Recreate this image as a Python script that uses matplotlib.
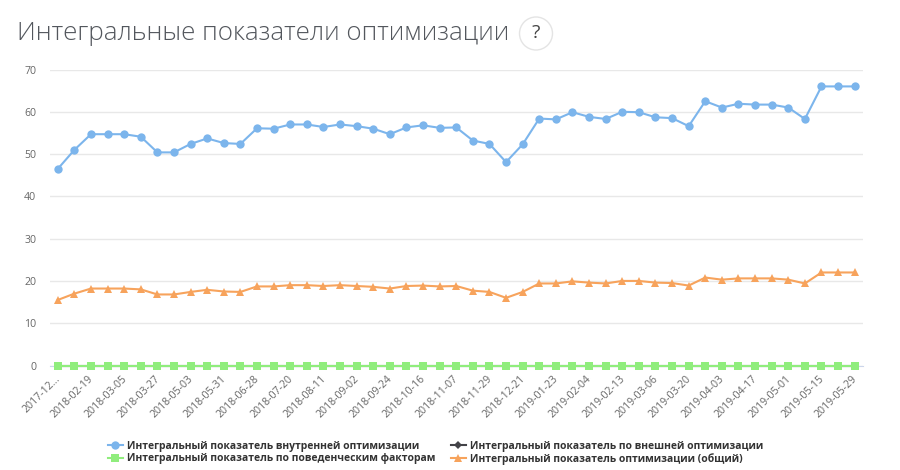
#!/usr/bin/env python3
"""Line chart of integral optimization scores by date."""

import matplotlib
matplotlib.use("Agg")
import numpy as np
import matplotlib.pyplot as plt
from matplotlib.patches import Circle
from matplotlib.transforms import ScaledTranslation

plt.rcParams["font.family"] = ["Open Sans", "DejaVu Sans"]

TITLE = "Интегральные показатели оптимизации"

tick_labels = [
    "2017-12...", "2018-02-19", "2018-03-05", "2018-03-27", "2018-05-03",
    "2018-05-31", "2018-06-28", "2018-07-20", "2018-08-11", "2018-09-02",
    "2018-09-24", "2018-10-16", "2018-11-07", "2018-11-29", "2018-12-21",
    "2019-01-23", "2019-02-04", "2019-02-13", "2019-03-06", "2019-03-20",
    "2019-04-03", "2019-04-17", "2019-05-01", "2019-05-15", "2019-05-29",
]

internal = [
    46.5, 51.0, 54.7, 54.7, 54.7, 54.1, 50.4, 50.4, 52.4, 53.7,
    52.6, 52.4, 56.1, 56.0, 57.0, 57.0, 56.4, 57.0, 56.6, 56.0,
    54.7, 56.3, 56.8, 56.2, 56.3, 53.2, 52.4, 48.1, 52.3, 58.4,
    58.2, 59.9, 58.8, 58.3, 60.0, 59.9, 58.7, 58.5, 56.6, 62.5,
    61.0, 61.9, 61.7, 61.7, 61.0, 58.3, 66.0, 66.0, 66.0,
]
external = [0] * 49
behavior = [0] * 49
overall = [
    15.5, 17.0, 18.2, 18.2, 18.2, 18.0, 16.8, 16.8, 17.4, 17.9,
    17.5, 17.4, 18.7, 18.7, 19.0, 19.0, 18.8, 19.0, 18.8, 18.6,
    18.2, 18.8, 18.9, 18.7, 18.8, 17.7, 17.4, 16.0, 17.4, 19.4,
    19.4, 19.9, 19.6, 19.4, 20.0, 20.0, 19.6, 19.5, 18.9, 20.8,
    20.3, 20.6, 20.6, 20.6, 20.3, 19.4, 22.0, 22.0, 22.0,
]

W, H = 900, 470
fig = plt.figure(figsize=(W / 100, H / 100), dpi=100)
# plot area in pixels: x 49.5..863, y 69.5..365.5
ax = fig.add_axes([49.5 / W, 1 - 365.5 / H, (863 - 49.5) / W, 296 / H])

x = np.arange(len(internal))
ax.plot(x, internal, color="#7cb5ec", lw=1.5, marker="o", ms=6, mew=0,
        label="Интегральный показатель внутренней оптимизации", clip_on=False)
ax.plot(x, behavior, color="#90ed7d", lw=1.5, marker="s", ms=5.8, mew=0,
        label="Интегральный показатель по поведенческим факторам", clip_on=False, zorder=4)
ax.plot(x, external, color="#434348", lw=1.5, marker="D", ms=4, mew=0,
        label="Интегральный показатель по внешней оптимизации", clip_on=False, zorder=3)
ax.plot(x, overall, color="#f7a35c", lw=1.5, marker="^", ms=6, mew=0,
        label="Интегральный показатель оптимизации (общий)", clip_on=False)

ax.set_xlim(-0.5, len(internal) - 0.5)
ax.set_ylim(0, 70)
ax.set_yticks(range(0, 71, 10))
ax.set_xticks(x[::2])
ax.set_xticklabels(tick_labels, rotation=45, ha="right", rotation_mode="anchor",
                   fontsize=7.6, color="#666666")
ax.tick_params(axis="x", length=0, pad=5.5)
ax.tick_params(axis="y", length=0, pad=9.5, labelsize=7.6, labelcolor="#666666")
# nudge the rotated labels a little left of their ticks
shift = ScaledTranslation(-3 / 100, 0, fig.dpi_scale_trans)
for lab in ax.get_xticklabels():
    lab.set_transform(lab.get_transform() + shift)
ax.grid(True, axis="y", color="#e8e8e8", lw=1)
ax.set_axisbelow(True)
for s in ["top", "right", "left"]:
    ax.spines[s].set_visible(False)
ax.spines["bottom"].set_color("#ccd6eb")

handles, labels = ax.get_legend_handles_labels()
fig.legend(handles, labels, ncol=2, loc="lower left",
           bbox_to_anchor=(108 / W, 1 - 465 / H), frameon=False,
           prop={"size": 7.47, "weight": "bold"}, labelcolor="#333333",
           handlelength=1.4, handletextpad=0.4, columnspacing=1.55,
           labelspacing=0.1, borderpad=0, borderaxespad=0)

fig.text(17 / W, 1 - 34 / H, TITLE, fontsize=18.7, color="#53575d",
         va="center", ha="left", fontweight="light")

# help badge next to the title
overlay = fig.add_axes([0, 0, 1, 1], facecolor="none")
overlay.set_xlim(0, W)
overlay.set_ylim(H, 0)
overlay.axis("off")
overlay.add_patch(Circle((536, 33.5), 16.5, fc="white", ec="#e4e4e4", lw=1))
overlay.text(536, 33.5, "?", fontsize=14, color="#444444", ha="center", va="center")

fig.savefig("out.png", dpi=100)
